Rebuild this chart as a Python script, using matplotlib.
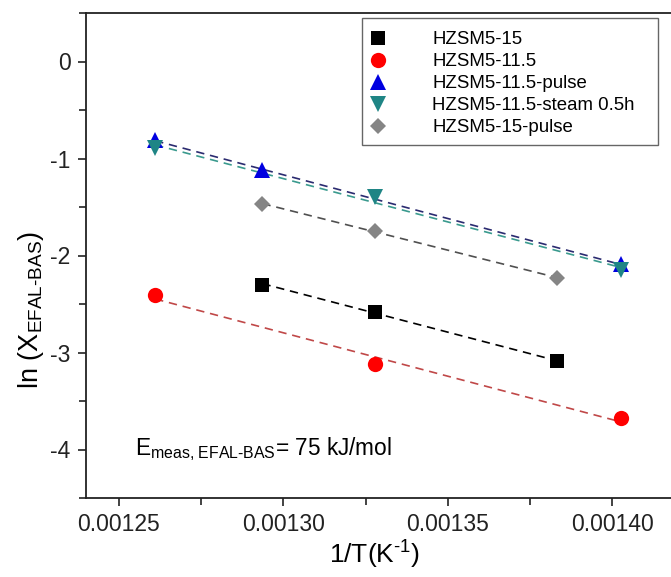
import numpy as np
import matplotlib
matplotlib.use("Agg")
import matplotlib.pyplot as plt
from matplotlib.ticker import MultipleLocator
from matplotlib.patches import Rectangle

plt.rcParams['font.family'] = ['Liberation Sans', 'DejaVu Sans']
plt.rcParams['mathtext.fontset'] = 'custom'
plt.rcParams['mathtext.rm'] = 'Liberation Sans'
plt.rcParams['mathtext.it'] = 'Liberation Sans'

# 1/T values (K^-1) and ln(X)
x_hzsm5_15 = [1/773, 1/753, 1/723]
y_hzsm5_15 = [-2.30, -2.58, -3.09]

x_hzsm5_115 = [1/793, 1/753, 1/713]
y_hzsm5_115 = [-2.41, -3.12, -3.68]

x_pulse_115 = [1/793, 1/773, 1/713]
y_pulse_115 = [-0.81, -1.12, -2.09]

x_steam = [1/793, 1/753, 1/713]
y_steam = [-0.89, -1.40, -2.15]

x_pulse_15 = [1/773, 1/753, 1/723]
y_pulse_15 = [-1.47, -1.75, -2.23]

labels = ["HZSM5-15", "HZSM5-11.5", "HZSM5-11.5-pulse",
          "HZSM5-11.5-steam 0.5h", "HZSM5-15-pulse"]

series = [
    (x_hzsm5_15, y_hzsm5_15, 's', 'black', 'black', 10),
    (x_hzsm5_115, y_hzsm5_115, 'o', '#ff0000', '#c04848', 11),
    (x_pulse_115, y_pulse_115, '^', '#0000e0', '#2b2b70', 11),
    (x_steam, y_steam, 'v', '#1f8585', '#3a9a8e', 11),
    (x_pulse_15, y_pulse_15, 'D', '#858585', '#505050', 8.5),
]

fig = plt.figure(figsize=(6.71, 5.77), dpi=100)
ax = fig.add_axes([86/671, 1 - 498/577, (678 - 86)/671, (498 - 13)/577])

handles = []
for (xs, ys, mk, mcol, lcol, ms), lab in zip(series, labels):
    xs = np.array(xs)
    ys = np.array(ys)
    k, b = np.polyfit(xs, ys, 1)
    xf = np.array([xs.min(), xs.max()])
    ax.plot(xf, k * xf + b, ls=(0, (5, 3.5)), color=lcol, lw=1.2, zorder=2)
    h, = ax.plot(xs, ys, ls='none', marker=mk, color=mcol, ms=ms,
                 markeredgewidth=0, zorder=3, label=lab)
    handles.append(h)

ax.set_xlim(0.00124, 0.00142)
ax.set_ylim(-4.5, 0.5)
ax.xaxis.set_major_locator(MultipleLocator(0.00005))
ax.xaxis.set_minor_locator(MultipleLocator(0.000025))
ax.yaxis.set_major_locator(MultipleLocator(1))
ax.yaxis.set_minor_locator(MultipleLocator(0.5))
ax.xaxis.set_major_formatter(plt.FuncFormatter(lambda v, p: f"{v:.5f}"))
ax.yaxis.set_major_formatter(plt.FuncFormatter(lambda v, p: f"{v:.0f}"))

ax.tick_params(which='both', direction='out', colors='#222222', width=1.2,
               labelsize=16.5, top=False, right=False)
ax.tick_params(which='major', length=6, pad=5)
ax.tick_params(which='minor', length=5)
for side in ['left', 'bottom', 'top', 'right']:
    ax.spines[side].set_linewidth(1.3)
    ax.spines[side].set_color('#222222')

ax.set_xlabel(r'1/T(K$^{\text{-1}}$)', fontsize=19)
ax.xaxis.set_label_coords((375 - 86)/592, (498 - 539)/485)
ax.set_ylabel(r'ln (X$_{\text{EFAL-BAS}}$)', fontsize=19.5)
ax.yaxis.set_label_coords((46 - 86)/592, (498 - 310)/485)

ax.text(0.001255, -4.06, r'E$_{\text{meas, EFAL-BAS}}$= 75 kJ/mol',
        fontsize=16.3)

# legend frame is wider than its text, so draw it by hand
fig.add_artist(Rectangle((362/671, 1 - 145/577), (658 - 362)/671, (145 - 18)/577,
                         transform=fig.transFigure, facecolor='white',
                         edgecolor='#666666', lw=1.0, zorder=4))
leg = fig.legend(handles=handles, loc='upper left',
                 bbox_to_anchor=(370/671, 1 - 31/577), borderaxespad=0,
                 borderpad=0, fontsize=13.4, frameon=False,
                 handletextpad=2.45, labelspacing=0.27, handlelength=0.9)

fig.savefig("out.png", dpi=100)
